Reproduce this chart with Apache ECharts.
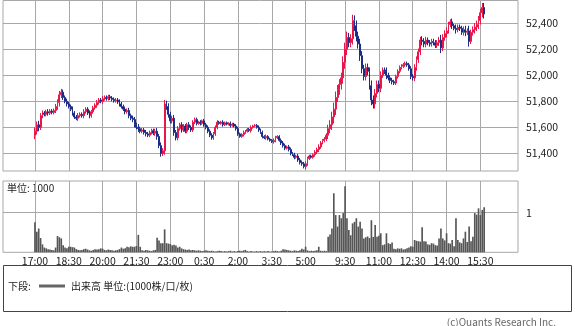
<!DOCTYPE html>
<html><head><meta charset="utf-8">
<script src="https://cdn.jsdelivr.net/npm/echarts@6/dist/echarts.min.js"></script>
<style>html,body{margin:0;padding:0;background:#fff}#c{width:575px;height:326px}</style>
</head><body><div id="c"></div>
<script>
// ---- data (5-minute bars) ----
const firstOpen = 51540;
const nightClose = [
51570,51620,51600,51690,51710,51700,51720,51710,51725,51715,51730,
51760,51790,51850,51870,51830,51800,51780,51760,51740,51710,
51680,51670,51690,51700,51690,51720,51740,51710,51690,51720,
51750,51770,51790,51810,51800,51820,51830,51820,51835,51825,
51815,51805,51810,51795,51780,51760,51740,51720,51730,51690,
51670,51660,51620,51600,51590,51570,51580,51560,51550,51540,
51560,51575,51555,51570,51530,51460,51400,51420,51780,51760,
51700,51650,51670,51560,51520,51590,51620,51580,51610,51570,
51620,51600,51580,51640,51660,51630,51640,51630,51650,51620,
51600,51570,51540,51520,51550,51600,51640,51630,51640,51620,
51635,51625,51630,51615,51625,51610,51590,51550,51530,51545,
51560,51570,51585,51575,51600,51610,51615,51600,51580,51560,
51530,51520,51530,51510,51500,51490,51500,51520,51530,51500,
51480,51460,51440,51450,51430,51400,51390,51370,51380,51350,
51330,51320,51300,51320,51360,51380,51370,51390,51410,51430,
51450,51480,51500,51510,51540];
const dayClose = [
51590,51620,51680,51740,51830,51890,51930,51980,52100,52200,
52290,52250,52280,52420,52380,52300,52240,52150,52050,51990,
52060,52030,51920,51810,51780,51860,51930,51900,52000,52040,
52030,52000,51980,51960,51950,51940,51990,52030,52060,52070,
52080,52090,52080,52050,51990,51980,52060,52120,52180,52270,
52260,52240,52270,52250,52240,52260,52250,52230,52250,52270,
52210,52290,52320,52340,52390,52410,52380,52360,52350,52370,
52360,52330,52350,52330,52340,52260,52330,52350,52370,52390,
52420,52480,52520,52470];
// wick length (yen) beyond the candle body, per bar
const nightWick = [
30,25,30,20,20,15,15,20,15,15,15,
20,25,30,25,20,15,20,15,15,20,
15,15,20,15,15,20,15,15,20,15,
15,15,20,15,15,20,15,15,15,15,
15,15,15,15,20,15,15,20,15,20,
15,20,20,15,25,15,15,15,20,15,
15,15,15,20,25,20,25,20,30,25,
25,20,20,25,20,20,15,20,15,15,
15,20,15,15,15,15,10,15,10,15,
15,15,15,15,15,15,15,10,10,15,
10,10,10,15,10,10,15,15,10,10,
15,10,10,10,15,10,10,10,15,10,
15,10,15,10,10,10,15,15,10,10,
15,15,15,10,15,15,10,15,10,15,
15,15,15,20,15,10,10,10,15,15,
20,15,10,15,15];
const dayWick = [
30,35,40,50,45,35,40,40,45,50,
45,35,35,45,40,40,35,40,35,30,
30,30,30,40,35,35,30,30,30,20,
20,30,20,20,20,15,15,15,15,15,
15,15,15,15,20,20,25,25,25,25,
30,25,25,20,20,20,20,20,20,25,
40,25,25,30,20,20,25,15,30,20,
20,20,25,30,20,40,20,25,30,30,
35,30,35,35];
const nightVol = [
0.76,0.52,0.60,0.36,0.20,0.12,0.10,0.08,0.07,0.06,0.05,
0.12,0.41,0.38,0.35,0.18,0.12,0.10,0.14,0.14,0.13,
0.12,0.08,0.06,0.05,0.06,0.08,0.09,0.07,0.05,0.04,
0.06,0.08,0.07,0.08,0.10,0.09,0.06,0.05,0.07,0.06,
0.05,0.04,0.05,0.06,0.08,0.12,0.09,0.10,0.14,0.13,
0.15,0.14,0.14,0.16,0.44,0.14,0.05,0.04,0.06,0.05,
0.04,0.03,0.05,0.06,0.37,0.30,0.23,0.23,0.58,0.23,
0.22,0.21,0.18,0.19,0.17,0.12,0.14,0.10,0.08,0.07,
0.06,0.07,0.05,0.06,0.05,0.04,0.05,0.04,0.03,0.04,
0.05,0.04,0.03,0.04,0.03,0.02,0.03,0.04,0.03,0.02,
0.03,0.02,0.03,0.04,0.02,0.03,0.02,0.03,0.04,0.03,
0.05,0.06,0.03,0.02,0.03,0.02,0.02,0.03,0.02,0.03,
0.02,0.03,0.02,0.03,0.02,0.02,0.03,0.04,0.03,0.02,
0.04,0.08,0.07,0.06,0.05,0.04,0.03,0.05,0.04,0.03,
0.05,0.09,0.07,0.14,0.05,0.03,0.04,0.03,0.04,0.05,
0.14,0.04,0.03,0.04,0.03];
const dayVol = [
0.39,0.45,0.60,1.49,0.94,0.65,0.94,0.86,0.99,1.67,
0.86,0.56,0.43,0.73,0.77,0.86,0.65,0.77,0.60,0.35,
0.38,0.40,0.36,0.81,0.39,0.69,0.39,0.42,0.48,0.18,
0.20,0.48,0.23,0.21,0.25,0.09,0.08,0.10,0.09,0.10,
0.07,0.08,0.10,0.12,0.15,0.14,0.31,0.29,0.28,0.27,
0.63,0.28,0.27,0.20,0.19,0.23,0.22,0.18,0.17,0.35,
0.60,0.35,0.30,0.48,0.23,0.22,0.31,0.15,0.86,0.31,
0.25,0.23,0.35,0.52,0.26,0.65,0.28,0.39,0.99,0.95,
1.11,0.94,1.07,1.14];
const timeTicks = ['17:00','18:30','20:00','21:30','23:00','0:30','2:00','3:30','5:00','9:30','11:00','12:30','14:00','15:30'];
const priceTicks = [51400,51600,51800,52000,52200,52400];
const volTicks = [1];

// ---- build categories ----
const PAD_L = 17, PAD_R = 18;
function times(h, m, n) {
  const out = [];
  for (let i = 0; i < n; i++) {
    const t = h * 60 + m + 5 * i;
    out.push((Math.floor(t / 60) % 24) + ':' + String(t % 60).padStart(2, '0'));
  }
  return out;
}
function pads(p, n) { const o = []; for (let i = 0; i < n; i++) o.push(p + i); return o; }
const cats = [].concat(pads('a', PAD_L), times(17, 0, nightClose.length), times(8, 45, dayClose.length), pads('b', PAD_R));

const closes = nightClose.concat(dayClose);
const wicks = nightWick.concat(dayWick);
const vols = nightVol.concat(dayVol);
const candles = [];
let prev = firstOpen;
closes.forEach((c, i) => {
  candles.push([prev, c, Math.min(prev, c) - wicks[i], Math.max(prev, c) + wicks[i]]);
  prev = c;
});
const emptyL = pads('', PAD_L).map(() => '-');
const emptyR = pads('', PAD_R).map(() => '-');
const candleData = [].concat(emptyL, candles, emptyR);
const volData = [].concat(emptyL, vols, emptyR);

const FONT = '"Noto Sans CJK JP", "Noto Sans", sans-serif';
const GRID = '#a8a8a8';
const showTick = (i, v) => timeTicks.indexOf(v) >= 0;

const chart = echarts.init(document.getElementById('c'), null, {renderer: 'canvas'});
chart.setOption({
  animation: false,
  textStyle: {fontFamily: FONT},
  grid: [
    {left: 3, top: 0.5, width: 515, height: 170.5, show: true, borderColor: GRID, borderWidth: 1, backgroundColor: '#fff'},
    {left: 3, top: 181, width: 515, height: 71.3, show: true, borderColor: GRID, borderWidth: 1, backgroundColor: '#fff'}
  ],
  xAxis: [
    {type: 'category', gridIndex: 0, data: cats, boundaryGap: false,
     axisLine: {show: false}, axisTick: {show: false}, axisLabel: {show: false},
     splitLine: {show: true, interval: showTick, lineStyle: {color: GRID, width: 1}}},
    {type: 'category', gridIndex: 1, data: cats, boundaryGap: false,
     axisLine: {show: false}, axisTick: {show: false},
     axisLabel: {show: true, interval: showTick, color: '#222', fontSize: 10.5, fontFamily: FONT, margin: 3},
     splitLine: {show: true, interval: showTick, lineStyle: {color: GRID, width: 1}}}
  ],
  yAxis: [
    {type: 'value', gridIndex: 0, position: 'right', min: 51265, max: 52574, scale: true,
     axisLine: {show: false}, axisTick: {show: false, customValues: priceTicks},
     axisLabel: {customValues: priceTicks, color: '#222', fontSize: 10.5, fontFamily: FONT, margin: 8,
                 formatter: v => Number(v).toLocaleString('en-US')},
     splitLine: {show: true, lineStyle: {color: GRID, width: 1}}},
    {type: 'value', gridIndex: 1, position: 'right', min: 0, max: 1.8,
     axisLine: {show: false}, axisTick: {show: false, customValues: volTicks},
     axisLabel: {customValues: volTicks, color: '#222', fontSize: 10.5, fontFamily: FONT, margin: 8},
     splitLine: {show: true, lineStyle: {color: GRID, width: 1}}}
  ],
  series: [
    {type: 'candlestick', xAxisIndex: 0, yAxisIndex: 0, data: candleData, barWidth: 1.4,
     itemStyle: {color: '#e8174a', color0: '#1c2c86', borderColor: '#e8174a', borderColor0: '#1c2c86', borderWidth: 1}},
    {type: 'bar', xAxisIndex: 1, yAxisIndex: 1, data: volData, barCategoryGap: '12%',
     itemStyle: {color: '#555'}}
  ],
  graphic: [
    {type: 'text', left: 7, top: 183, style: {text: '単位: 1000', font: '10px ' + FONT, fill: '#222'}},
    {type: 'rect', shape: {x: 3.5, y: 265.5, width: 568, height: 46}, style: {fill: 'none', stroke: '#444', lineWidth: 1}},
    {type: 'text', x: 8, y: 286, style: {text: '下段:', font: '10px ' + FONT, fill: '#222', verticalAlign: 'middle'}},
    {type: 'line', shape: {x1: 39, y1: 286, x2: 65, y2: 286}, style: {stroke: '#666', lineWidth: 3}},
    {type: 'text', x: 71, y: 286, style: {text: '出来高 単位:(1000株/口/枚)', font: '10px ' + FONT, fill: '#222', verticalAlign: 'middle'}},
    {type: 'text', x: 556, y: 322, style: {text: '(c)Quants Research Inc.', font: '10px ' + FONT, fill: '#666', align: 'right', verticalAlign: 'middle'}}
  ]
});
</script>
</body></html>
